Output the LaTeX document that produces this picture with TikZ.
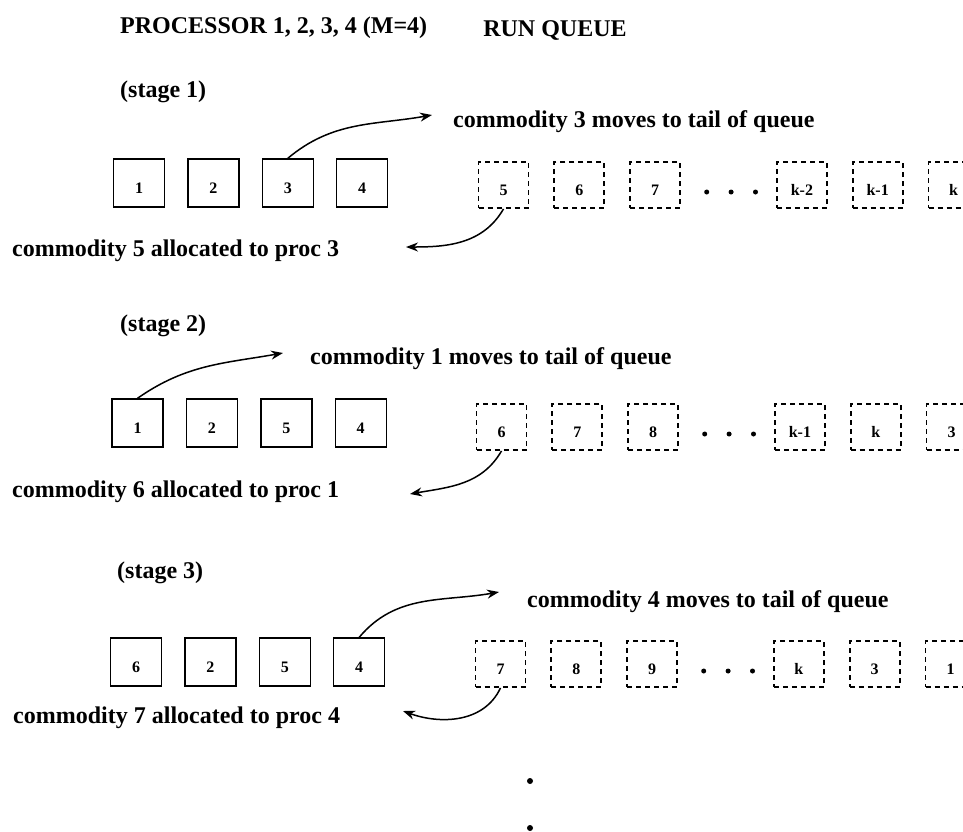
\documentclass[tikz,border=0pt]{standalone}
\usepackage{fontspec}
\setmainfont{Liberation Serif}
\usetikzlibrary{arrows.meta, positioning}

\begin{document}
\begin{tikzpicture}[
  x=1pt, y=1pt,
  txt/.style={inner sep=0pt, anchor=base west,
              font=\bfseries\fontsize{24}{28}\selectfont},
  proc/.style={rectangle, draw, line width=1.4pt, minimum width=51pt,
               minimum height=48pt, inner sep=0pt, text height=21pt, text depth=0pt,
               font=\bfseries\fontsize{16}{18}\selectfont},
  slot/.style={proc, dash pattern=on 5pt off 4pt, line width=1.8pt,
               minimum width=50pt, minimum height=46pt},
  dot/.style={circle, fill, inner sep=0pt, minimum size=5pt},
  arr/.style={-{Stealth[length=12pt, width=9pt]}, line width=1.5pt},
  node distance=22pt,
]
  \useasboundingbox (0,0) rectangle (963,-831);

  \node[txt] (title) at (120,-33) {PROCESSOR 1, 2, 3, 4 (M=4)};
  \node[txt, anchor=base] (runq) at (555,-36) {RUN QUEUE};

  % stage 1
  \node[txt] (st1) at (120,-97) {(stage 1)};
  \node[proc] (s1p1) at (139,-183) {1};
  \node[proc, right=of s1p1] (s1p2) {2};
  \node[proc, right=of s1p2] (s1p3) {3};
  \node[proc, right=of s1p3] (s1p4) {4};

  \node[slot] (s1q1) at (503.5,-185) {5};
  \node[slot, right=24pt of s1q1] (s1q2) {6};
  \node[slot, right=24pt of s1q2] (s1q3) {7};
  \node[dot, right=23pt of s1q3, yshift=-7pt] (s1d1) {};
  \node[dot, right=19pt of s1d1] (s1d2) {};
  \node[dot, right=19pt of s1d2] (s1d3) {};
  \node[slot, right=95pt of s1q3] (s1q4) {k-2};
  \node[slot, right=24pt of s1q4] (s1q5) {k-1};
  \node[slot, right=24pt of s1q5] (s1q6) {k};

  \node[txt] (mv1) at (453,-127) {commodity 3 moves to tail of queue};
  \node[txt] (al1) at (12,-256) {commodity 5 allocated to proc 3};
  \coordinate (t1) at (432,-115);
  \coordinate (b1) at (406,-247);
  \draw[arr] (s1p3.north) to[out=40, in=190] (t1);
  \draw[arr] (s1q1.south) to[out=-120, in=0] (b1);

  % stage 2
  \node[txt] (st2) at (120,-331) {(stage 2)};
  \node[proc] (s2p1) at (137.5,-423) {1};
  \node[proc, right=of s2p1] (s2p2) {2};
  \node[proc, right=of s2p2] (s2p3) {5};
  \node[proc, right=of s2p3] (s2p4) {4};

  \node[slot] (s2q1) at (501.5,-427) {6};
  \node[slot, right=24pt of s2q1] (s2q2) {7};
  \node[slot, right=24pt of s2q2] (s2q3) {8};
  \node[dot, right=23pt of s2q3, yshift=-7pt] (s2d1) {};
  \node[dot, right=19pt of s2d1] (s2d2) {};
  \node[dot, right=19pt of s2d2] (s2d3) {};
  \node[slot, right=95pt of s2q3] (s2q4) {k-1};
  \node[slot, right=24pt of s2q4] (s2q5) {k};
  \node[slot, right=24pt of s2q5] (s2q6) {3};

  \node[txt] (mv2) at (310,-364) {commodity 1 moves to tail of queue};
  \node[txt] (al2) at (12,-497) {commodity 6 allocated to proc 1};
  \coordinate (t2) at (283,-353);
  \coordinate (b2) at (410,-494);
  \draw[arr] (s2p1.north) to[out=35, in=190] (t2);
  \draw[arr] (s2q1.south) to[out=-120, in=10] (b2);

  % stage 3
  \node[txt] (st3) at (117,-578) {(stage 3)};
  \node[proc] (s3p1) at (136,-662) {6};
  \node[proc, right=of s3p1] (s3p2) {2};
  \node[proc, right=of s3p2] (s3p3) {5};
  \node[proc, right=of s3p3] (s3p4) {4};

  \node[slot] (s3q1) at (500.5,-664) {7};
  \node[slot, right=24pt of s3q1] (s3q2) {8};
  \node[slot, right=24pt of s3q2] (s3q3) {9};
  \node[dot, right=23pt of s3q3, yshift=-7pt] (s3d1) {};
  \node[dot, right=19pt of s3d1] (s3d2) {};
  \node[dot, right=19pt of s3d2] (s3d3) {};
  \node[slot, right=95pt of s3q3] (s3q4) {k};
  \node[slot, right=24pt of s3q4] (s3q5) {3};
  \node[slot, right=24pt of s3q5] (s3q6) {1};

  \node[txt] (mv3) at (527,-607) {commodity 4 moves to tail of queue};
  \node[txt] (al3) at (13,-723) {commodity 7 allocated to proc 4};
  \coordinate (t3) at (499,-592);
  \coordinate (b3) at (403,-711);
  \draw[arr] (s3p4.north) to[out=50, in=190] (t3);
  \draw[arr] (s3q1.south) to[out=-115, in=-20] (b3);

  % more stages follow
  \node[dot, minimum size=6pt] (v1) at (530,-781) {};
  \node[dot, minimum size=6pt] (v2) at (530,-828) {};
\end{tikzpicture}
\end{document}
